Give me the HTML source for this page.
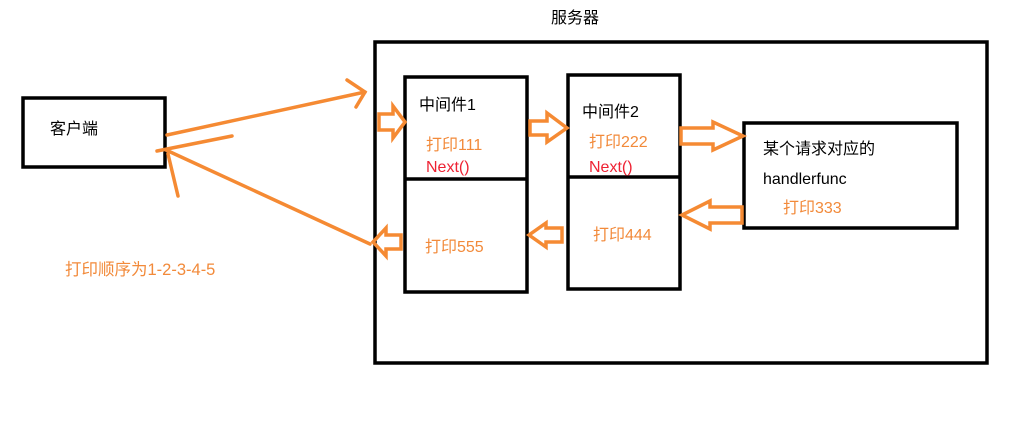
<!DOCTYPE html>
<html><head><meta charset="utf-8"><style>
body{margin:0;width:1024px;height:433px;background:#fff;overflow:hidden;position:relative;font-family:"Liberation Sans","Noto Sans CJK SC",sans-serif}
.t{position:absolute;font-size:16px;white-space:nowrap;line-height:1}
.o{color:#f28a3a}.r{color:#ee2233}
</style></head><body>
<svg width="1024" height="433" style="position:absolute;left:0;top:0">
<g fill="none" stroke="#000" stroke-width="3.5">
<rect x="375" y="42" width="612" height="321"/>
<rect x="23" y="98" width="142" height="69"/>
<rect x="405" y="77" width="122" height="215"/>
<line x1="405" y1="179" x2="527" y2="179"/>
<rect x="568" y="75" width="112" height="214"/>
<line x1="568" y1="177" x2="680" y2="177"/>
<rect x="744" y="123" width="213" height="105"/>
</g>
<g fill="none" stroke="#f58a33" stroke-width="3.5" stroke-linejoin="miter" stroke-linecap="round">
<line x1="167" y1="135" x2="365" y2="92"/>
<polyline points="347,80 365,92 356,107"/>
<line x1="370" y1="244" x2="166" y2="150"/>
<line x1="157" y1="151" x2="232" y2="136"/>
<line x1="168" y1="154" x2="178" y2="196"/>
<polygon points="379,114 393,114 393,106 405,122 393,138 393,130 379,130"/>
<polygon points="530,121 547,121 547,113 567,128 547,142 547,135 530,135"/>
<polygon points="681,128 713,128 713,122 743,136 713,150 713,144 681,144"/>
<polygon points="742,207 710,207 710,201 682,215 710,229 710,223 742,223"/>
<polygon points="546,228 546,223 529,235 546,247 546,242 562,242 562,228"/>
<polygon points="386,235 386,228 373,242 386,256 386,249 401,249 401,235"/>
</g>
</svg>
<div class="t" style="left:551px;top:11px">服务器</div>
<div class="t" style="left:50px;top:122px">客户端</div>
<div class="t o" style="left:65px;top:262px;font-size:16.5px">打印顺序为1-2-3-4-5</div>
<div class="t" style="left:419px;top:98px">中间件1</div>
<div class="t o" style="left:426px;top:138px">打印111</div>
<div class="t r" style="left:426px;top:160px">Next()</div>
<div class="t o" style="left:425px;top:240px">打印555</div>
<div class="t" style="left:582px;top:105px">中间件2</div>
<div class="t o" style="left:589px;top:135px">打印222</div>
<div class="t r" style="left:589px;top:160px">Next()</div>
<div class="t o" style="left:593px;top:228px">打印444</div>
<div class="t" style="left:763px;top:142px">某个请求对应的</div>
<div class="t" style="left:763px;top:172px">handlerfunc</div>
<div class="t o" style="left:783px;top:201px">打印333</div>
</body></html>
